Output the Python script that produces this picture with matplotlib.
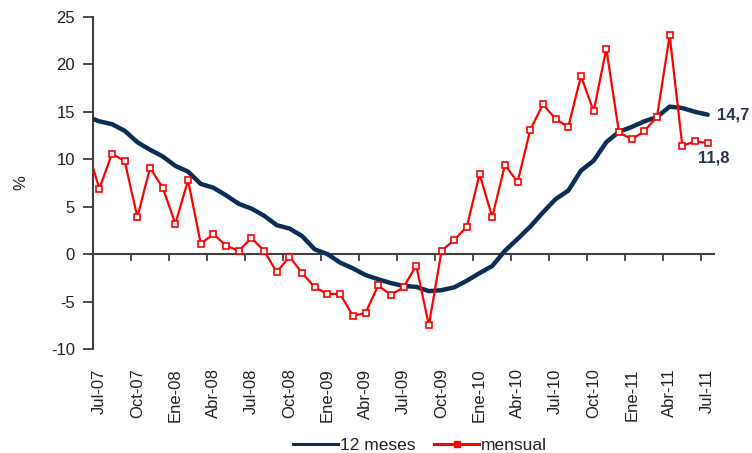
import matplotlib.pyplot as plt
from matplotlib.lines import Line2D
import numpy as np

plt.rcParams['font.family'] = ['Liberation Sans', 'DejaVu Sans']
plt.rcParams['axes.unicode_minus'] = False

# months from Jun-07 (index -1, clipped by the axis) to Jul-11 (index 48)
months_idx = np.arange(-1, 49)

doce_meses = [14.5, 14.0, 13.7, 13.0, 11.8, 11.0, 10.3, 9.3, 8.7, 7.4, 7.0,
              6.2, 5.3, 4.8, 4.05, 3.05, 2.7, 1.9, 0.5, 0.0, -0.9, -1.5,
              -2.2, -2.65, -3.05, -3.35, -3.45, -3.9, -3.8, -3.5, -2.8, -2.0,
              -1.25, 0.35, 1.6, 2.9, 4.4, 5.8, 6.7, 8.8, 9.85, 11.8, 12.9,
              13.4, 14.0, 14.45, 15.55, 15.4, 15.0, 14.7]

mensual = [11.3, 6.9, 10.6, 9.8, 3.9, 9.1, 7.0, 3.2, 7.8, 1.1, 2.1,
           0.9, 0.35, 1.7, 0.35, -1.9, -0.25, -2.0, -3.5, -4.2, -4.2, -6.5,
           -6.2, -3.3, -4.3, -3.5, -1.2, -7.5, 0.35, 1.5, 2.9, 8.45, 3.9,
           9.4, 7.6, 13.1, 15.8, 14.25, 13.4, 18.8, 15.05, 21.65, 12.85, 12.1,
           12.95, 14.5, 23.05, 11.4, 11.9, 11.7]

tick_labels = ['Jul-07', 'Oct-07', 'Ene-08', 'Abr-08', 'Jul-08', 'Oct-08',
               'Ene-09', 'Abr-09', 'Jul-09', 'Oct-09', 'Ene-10', 'Abr-10',
               'Jul-10', 'Oct-10', 'Ene-11', 'Abr-11', 'Jul-11']

navy = '#0c2d57'
red = '#ff0000'
axis_col = '#404040'
txt_col = '#222222'
fs = 12

fig = plt.figure(figsize=(7.52, 4.53), dpi=100)
ax = fig.add_axes([0.1237, 0.2296, 0.8258, 0.7329])

ax.plot(months_idx, doce_meses, color=navy, lw=3.2, solid_capstyle='round', zorder=3)
ax.plot(months_idx, mensual, color=red, lw=1.6, marker='s', markersize=5,
        markerfacecolor='white', markeredgecolor=red, markeredgewidth=1.2, zorder=4)

ax.set_xlim(-0.5, 48.5)
ax.set_ylim(-10, 25)
ax.set_yticks(np.arange(-10, 26, 5))
ax.tick_params(axis='y', direction='out', length=7, width=1.3, color=axis_col,
               labelsize=fs, labelcolor=txt_col, pad=6)

for s in ['top', 'right']:
    ax.spines[s].set_visible(False)
ax.spines['left'].set_color(axis_col)
ax.spines['left'].set_linewidth(1.5)
ax.spines['bottom'].set_position(('data', 0))
ax.spines['bottom'].set_color(axis_col)
ax.spines['bottom'].set_linewidth(1.5)

# tick marks between categories on the zero line
ax.set_xticks(np.arange(2.5, 48, 3))
ax.set_xticklabels([])
ax.tick_params(axis='x', direction='out', length=5, width=1.3, color=axis_col)

# category labels at the bottom
sec = ax.secondary_xaxis(0.0)
sec.set_xticks(np.arange(0, 49, 3), tick_labels, rotation=90)
sec.tick_params(length=0, labelsize=fs, labelcolor=txt_col, pad=14)
sec.spines['bottom'].set_visible(False)

ax.set_ylabel('%', fontsize=fs, color=txt_col, labelpad=16)

ax.annotate('14,7', xy=(48, doce_meses[-1]), xytext=(7, 0), textcoords='offset points',
            ha='left', va='center', fontsize=fs, fontweight='bold', color='#2a3550',
            annotation_clip=False)
ax.annotate('11,8', xy=(48, mensual[-1]), xytext=(-7, -11), textcoords='offset points',
            ha='left', va='center', fontsize=fs, fontweight='bold', color='#2a3550',
            annotation_clip=False)

handles = [Line2D([], [], color=navy, lw=2.2),
           Line2D([], [], color=red, lw=2.2, marker='s', markersize=4,
                  markerfacecolor=red, markeredgecolor=red)]
fig.legend(handles, ['12 meses', 'mensual'], loc='center', bbox_to_anchor=(0.5585, 0.017),
           ncol=2, frameon=False, fontsize=12.5, handlelength=2.6, handletextpad=0.1,
           columnspacing=1.1, labelcolor=txt_col)

fig.savefig('out.png', dpi=100)
